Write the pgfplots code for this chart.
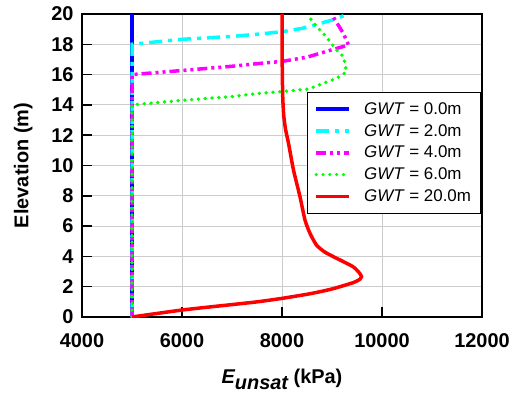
\documentclass[border=0pt]{standalone}
\usepackage{pgfplots}
\pgfplotsset{compat=1.18}
\usepackage{fontspec}
\setmainfont{Liberation Sans}
\definecolor{cB}{RGB}{0,0,255}
\definecolor{cC}{RGB}{0,255,255}
\definecolor{cM}{RGB}{255,0,255}
\definecolor{cG}{RGB}{0,255,0}
\definecolor{cR}{RGB}{255,0,0}
\begin{document}
\begin{tikzpicture}
\begin{axis}[
  scale only axis,
  width=400bp, height=303bp,
  xmin=4000, xmax=12000, ymin=0, ymax=20,
  xtick={4000,6000,8000,10000,12000},
  ytick={0,2,...,20},
  scaled x ticks=false,
  xticklabel style={/pgf/number format/1000 sep={}},
  /pgf/number format/assume math mode=true,
  tick label style={font=\fontsize{20}{24}\selectfont\bfseries},
  xticklabel style={yshift=-13bp},
  yticklabel style={xshift=-5bp},
  tick align=inside,
  xtick pos=bottom, ytick pos=left,
  major tick length=10bp,
  tick style={black, line width=1.5bp},
  axis line style={black, line width=2bp},
  grid=major,
  grid style={gray!40, line width=1bp},
  xlabel={\fontsize{20}{24}\selectfont\bfseries\itshape E\raisebox{-6bp}{unsat}\upshape\ (kPa)},
  ylabel={\fontsize{20}{24}\selectfont\bfseries Elevation (m)},
  xlabel shift=15bp,
  ylabel shift=12bp,
  legend style={at={(0.5625,0.7426)}, anchor=north west, draw=black, line width=1bp,
    font=\fontsize{17}{20}\selectfont, row sep=4.5bp, inner xsep=7bp, inner ysep=8bp,
    cells={anchor=west}},
  legend image code/.code={\draw[#1, line width=3.5bp] (0bp,0bp) -- (33bp,0bp); \path (44bp,0bp);},
  every axis plot/.append style={line width=3.5bp},
]
\addplot[cB] coordinates {(5000,0) (5000,20)};
\addplot[cC, dash pattern=on 13bp off 6bp on 4bp off 6bp] coordinates {
(5000,0) (5000,18) (6000,18.33) (7000,18.52) (7560,18.68) (8000,18.83) (8400,19.05) (8630,19.25) (9000,19.6) (9330,20)};
\addplot[cM, dash pattern=on 10bp off 4bp on 3bp off 4bp on 3bp off 4bp] coordinates {
(5000,0) (5000,16) (6000,16.27) (7000,16.55) (7560,16.74) (8000,16.87) (8500,17.15) (9030,17.67) (9330,17.95) (9230,18.7) (8990,20)};
\addplot[cG, line cap=round, line width=3.8bp, dash pattern=on 0bp off 6.8bp] coordinates {
(5000,0) (5000,14) (6000,14.3) (7000,14.55) (7560,14.77) (8000,14.88) (8530,15.05) (9090,15.75) (9290,16.19) (9230,17.18) (9090,17.62) (8960,18.17) (8860,18.6) (8730,19.05) (8590,19.56) (8530,20)};
\addplot[cR, smooth, tension=0.4] coordinates {
(5000,0) (6000,0.46) (7000,0.82) (7500,1.0) (8000,1.23) (8500,1.5) (8760,1.67) (9000,1.85) (9230,2.07) (9450,2.3) (9560,2.5) (9590,2.66) (9550,2.9) (9430,3.3) (9230,3.65) (9030,3.98) (8850,4.3) (8690,4.75) (8560,5.52) (8460,6.4) (8360,7.94) (8230,9.7) (8130,11.47) (8070,12.4) (8035,13.3) (8015,14.5) (8005,16.5) (8000,20)};
\legend{\textit{GWT} = 0.0m, \textit{GWT} = 2.0m, \textit{GWT} = 4.0m, \textit{GWT} = 6.0m, \textit{GWT} = 20.0m}
\coordinate (sw) at (rel axis cs:0,0);
\coordinate (ne) at (rel axis cs:1,1);
\end{axis}
\pgfresetboundingbox
\path[use as bounding box] ([shift={(-82bp,-76bp)}]sw) rectangle ([shift={(33bp,14bp)}]ne);
\end{tikzpicture}
\end{document}
